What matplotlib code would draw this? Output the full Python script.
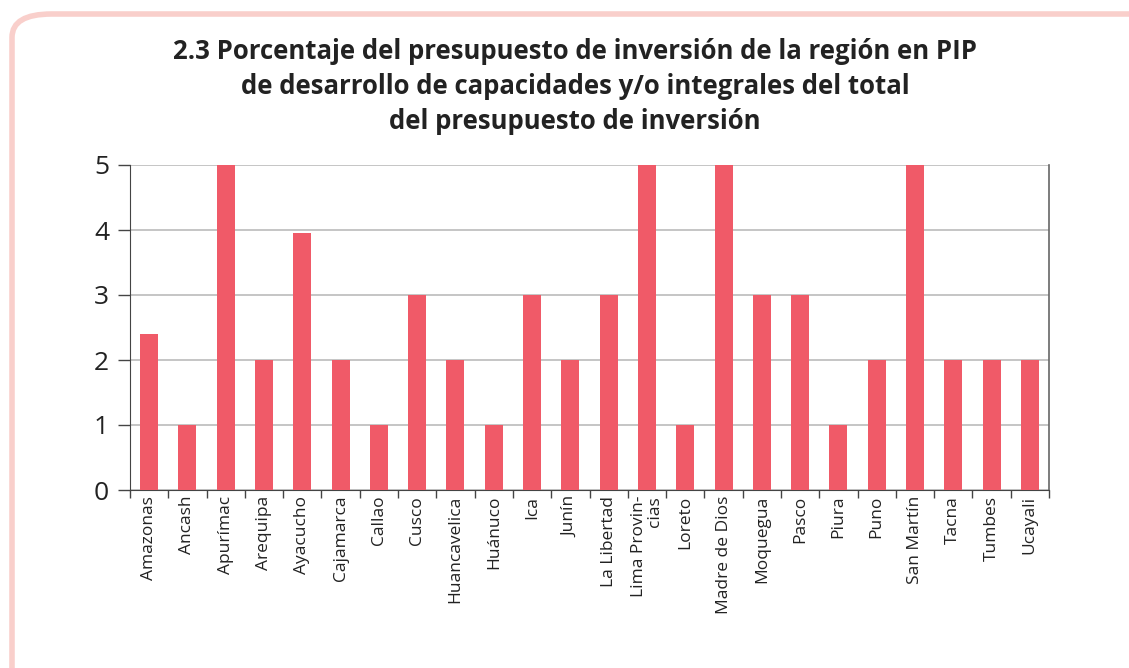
import matplotlib.pyplot as plt
from matplotlib.patches import FancyBboxPatch

plt.rcParams['font.family'] = ['Open Sans', 'DejaVu Sans']

regiones = ['Amazonas', 'Ancash', 'Apurímac', 'Arequipa', 'Ayacucho', 'Cajamarca',
            'Callao', 'Cusco', 'Huancavelica', 'Huánuco', 'Ica', 'Junín',
            'La Libertad', 'Lima Provin-\ncias', 'Loreto', 'Madre de Dios',
            'Moquegua', 'Pasco', 'Piura', 'Puno', 'San Martín', 'Tacna',
            'Tumbes', 'Ucayali']
valores = [2.4, 1, 5, 2, 3.95, 2, 1, 3, 2, 1, 3, 2, 3, 5, 1, 5, 3, 3, 1, 2, 5, 2, 2, 2]
ticks_y = [0, 1, 2, 3, 4, 5]

titulo = ('2.3 Porcentaje del presupuesto de inversión de la región en PIP\n'
          'de desarrollo de capacidades y/o integrales del total\n'
          'del presupuesto de inversión')

fig = plt.figure(figsize=(11.29, 6.68), dpi=100)
ax = fig.add_axes([130 / 1129, 1 - 490 / 668, 919 / 1129, 325 / 668])

# marco rosa redondeado
marco = FancyBboxPatch((12 / 1129, -0.2), 1.2, 1.2 - 14 / 668,
                       boxstyle='round,pad=0,rounding_size=0.035',
                       transform=fig.transFigure, fill=False,
                       edgecolor='#F9CFCB', linewidth=4, zorder=0)
fig.patches.append(marco)

x = range(len(regiones))
ax.bar(x, valores, width=0.47, color='#F05A68', zorder=3)

ax.set_xlim(-0.5, len(regiones) - 0.5)
ax.set_ylim(0, 5)
ax.set_yticks(ticks_y)
ax.yaxis.grid(True, color='#BBBBBB', linewidth=1.2, zorder=0)
ax.tick_params(axis='y', labelsize=19, length=9, width=1, color='#444444',
               labelcolor='#222222', pad=6)

ax.set_xticks([i - 0.5 for i in range(len(regiones) + 1)])
ax.set_xticklabels([])
ax.tick_params(axis='x', length=6, width=1, color='#444444', direction='out')
for i, nombre in enumerate(regiones):
    ax.text(i, -0.09, nombre, rotation=90, ha='center', va='top',
            multialignment='right', fontsize=12.5, color='#222222',
            transform=ax.transData, linespacing=1.05)

ax.spines['top'].set_visible(False)
ax.spines['left'].set_color('#444444')
ax.spines['bottom'].set_color('#444444')
ax.spines['right'].set_color('#666666')
ax.spines['right'].set_linewidth(1.2)

fig.text(575 / 1129, 1 - 38 / 668, titulo, ha='center', va='top', fontsize=18.5,
         fontweight='bold', color='#222222', linespacing=1.38)

fig.savefig('out.png', dpi=100)
